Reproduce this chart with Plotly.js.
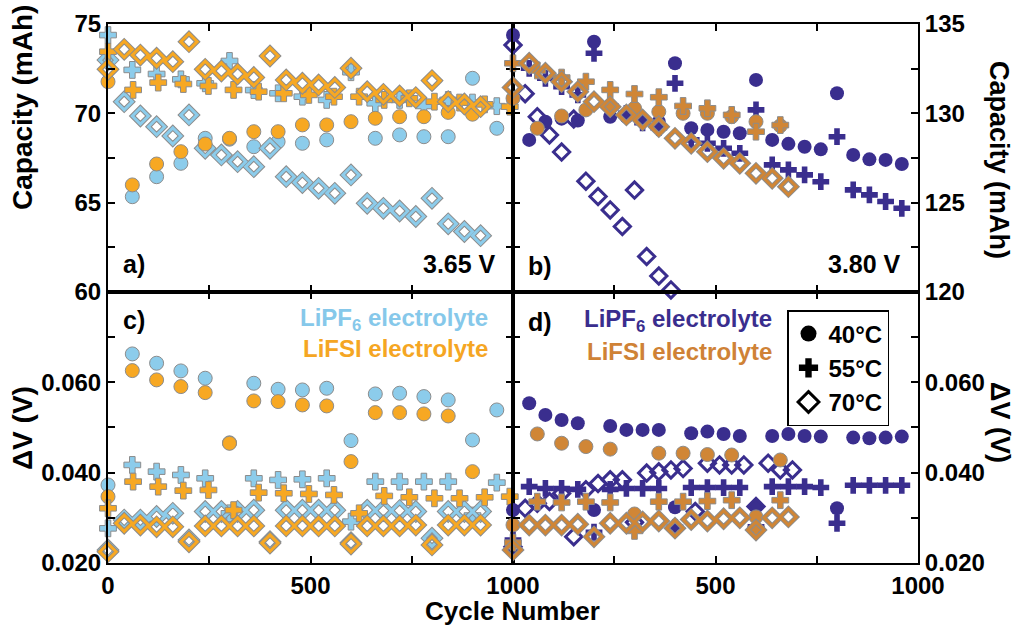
<!DOCTYPE html>
<html><head><meta charset="utf-8">
<script src="https://cdn.plot.ly/plotly-3.0.1.min.js"></script>
<style>html,body{margin:0;padding:0;background:#fff}#chart{width:1015px;height:625px}</style>
</head><body><div id="chart"></div>
<script>
// ---------- cycle grids ----------
const cyc60  = [0,60,120,180,240,300,360,420,480,540,600,660,720,780,840,900,960];
const cyc62  = [0,62,124,186,248,310,372,434,496,558,620,682,744,806,868,930,992];
const cyc40L = [0,40,80,120,160,200,240,280,320,360,400,440,480,520,560,600,640,680,720,760,800,840,880,920];
const cyc40  = [0,40,80,120,160,200,240,280,320,360,400,440,480,520,560,600,640,680,720,760,800,840,880,920,960];
const cyc40F = [0,40,80,120,160,200,240,280,320,360,400,440,480,520,560,600,640,680];
const cyc60F = [0,60,120,180,240,300,360,420,480,540,600,660];
const cyc30b = [0,30,60,90,120,150,180,210,240,270,300,330,360,390];
const cyc30d = [0,30,60,90,120,150,180,210,240,270,300,330,360,390,420,450,480,510,540,570,600,630,660,690];

// ---------- a) capacity at 3.65 V ----------
const a_LiPF6_40 = [72.9,65.33,66.45,67.20,68.60,68.55,68.13,68.41,68.32,68.51,72.43,68.60,68.79,68.69,68.69,71.96,69.16];
const a_LiFSI_40 = [71.77,65.99,67.16,67.85,68.28,68.60,68.97,68.97,69.35,69.35,69.53,69.72,69.81,69.81,70.05,69.95,null];
const a_LiPF6_55 = [74.38,72.43,72.20,71.90,71.68,72.93,71.30,71.12,70.93,70.75,72.30,70.56,70.75,70.41,70.75,70.60,70.40];
const a_LiFSI_55 = [73.45,71.31,71.72,71.64,71.53,71.31,71.21,71.12,71.03,70.93,70.93,70.75,70.84,70.65,70.60,70.50,70.37];
const a_LiPF6_70 = [72.98,70.65,69.85,69.25,68.73,69.91,68.04,67.67,67.29,67.01,68.04,66.45,66.12,65.80,65.52,66.55,64.96,64.68,64.53,64.22,65.24,63.81,63.38,63.15];
const a_LiFSI_70 = [72.46,73.58,73.26,73.08,72.89,74.01,72.46,72.37,72.20,72.01,73.21,71.87,71.68,71.59,71.45,72.52,71.21,71.06,70.97,70.88,71.83,70.65,70.52,70.37];

// ---------- b) capacity at 3.80 V ----------
const b_LiPF6_40 = [134.38,128.51,129.53,129.70,129.60,134.01,129.81,129.81,129.60,129.53,132.80,129.16,129.07,128.97,128.88,131.87,128.51,128.29,128.13,127.98,131.12,127.67,127.42,127.39,127.16];
const b_LiPF6_55 = [135.04,132.52,131.96,131.49,131.03,133.36,130.40,130.00,129.47,129.20,131.68,128.51,128.32,128.04,127.76,130.19,127.11,126.83,126.55,126.17,128.69,125.71,125.43,125.06,124.68];
const b_LiPF6_70 = [133.82,131.10,129.81,128.79,127.83,129.68,126.20,125.34,124.59,123.66,125.70,121.98,120.89,120.11];
const b_LiFSI_40 = [130.84,129.16,129.85,130.19,130.37,130.28,130.09,130.00,130.00,129.81,129.53,129.30];
const b_LiFSI_55 = [132.80,132.40,132.00,131.77,131.31,131.08,130.90,130.41,130.28,129.91,128.97,129.34];
const b_LiFSI_70 = [131.45,132.80,132.24,131.77,131.21,130.65,130.37,129.91,129.63,129.25,128.60,128.32,127.85,127.48,127.20,126.64,126.36,125.89];

// ---------- c) ΔV at 3.65 V ----------
const c_LiPF6_40 = [0.03727,0.06627,0.06421,0.06251,0.06089,0.04660,0.05978,0.05845,0.05830,0.05867,0.04709,0.05742,0.05757,0.05683,0.05609,0.04723,0.05387];
const c_LiFSI_40 = [0.03469,0.06258,0.06052,0.05904,0.05771,0.04649,0.05587,0.05572,0.05498,0.05476,0.04244,0.05328,0.05328,0.05299,0.05254,0.04022,null];
const c_LiPF6_55 = [0.02767,0.04170,0.04022,0.03948,0.03874,0.03100,0.03874,0.03838,0.03852,0.03874,0.02915,0.03801,0.03801,0.03801,0.03801,0.03050,0.03779];
const c_LiFSI_55 = [0.03211,0.03801,0.03690,0.03602,0.03616,0.03170,0.03557,0.03543,0.03528,0.03506,0.03100,0.03484,0.03454,0.03432,0.03432,0.03454,0.03468];
const c_LiPF6_70 = [0.0229,0.0295,0.0295,0.0303,0.0310,0.0251,0.0314,0.0314,0.0314,0.0317,0.0247,0.0317,0.0317,0.0317,0.0317,0.0245,0.0317,0.0316,0.0316,0.0314,0.0255,0.0314,0.0314,0.0314];
const c_LiFSI_70 = [0.0225,0.0288,0.0284,0.0280,0.0280,0.0247,0.0282,0.0282,0.0282,0.0282,0.0244,0.0282,0.0282,0.0282,0.0282,0.0242,0.0282,0.0282,0.0282,0.0284,0.0240,0.0284,0.0284,0.0284];

// ---------- d) ΔV at 3.80 V ----------
const d_LiPF6_40 = [0.03174,0.05535,0.05277,0.05166,0.05092,0.03174,0.05033,0.04945,0.04945,0.04945,0.03233,0.04871,0.04908,0.04856,0.04812,0.03247,0.04812,0.04856,0.04812,0.04797,0.03211,0.04775,0.04760,0.04775,0.04797];
const d_LiPF6_55 = [0.0251,0.0369,0.0365,0.0365,0.0363,0.0268,0.0363,0.0365,0.0365,0.0365,0.0279,0.0367,0.0367,0.0367,0.0367,0.0280,0.0369,0.0369,0.0369,0.0367,0.0288,0.0372,0.0372,0.0372,0.0372];
const d_LiPF6_70 = [0.0236,0.0321,0.0332,0.0336,0.0354,0.0258,0.0362,0.0376,0.0384,0.0384,0.0290,0.0399,0.0402,0.0406,0.0409,0.0314,0.0421,0.0417,0.0417,0.0417,0.0325,0.0421,0.0406,0.0406];
const d_LiFSI_40 = [0.02842,0.04856,0.04650,0.04576,0.04520,0.03085,0.04430,0.04430,0.04400,0.04390,0.03020,0.04280];
const d_LiFSI_55 = [0.0245,0.03357,0.03340,0.03357,0.03340,0.02710,0.03357,0.03357,0.03370,0.03390,0.02750,0.03390];
const d_LiFSI_70 = [0.0229,0.0284,0.0284,0.0284,0.0286,0.0258,0.0288,0.0288,0.0291,0.0293,0.0277,0.0296,0.0293,0.0298,0.0300,0.0273,0.0300,0.0302];

// legend labels
const tempLabels  = ['40°C','55°C','70°C'];
const tempSymbols = ['circle','cross','diamond-open'];

// ---------- styling ----------
const LB='#8CCCEB', OR='#F7A823', DB='#3A2E8E', BR='#D08636', GR='#8C8C8C';
const FONT='Liberation Sans, Arial, sans-serif';

function filled(x,y,ax,sym,col,edge){
  return {type:'scatter',mode:'markers',x:x,y:y,xaxis:ax[0],yaxis:ax[1],cliponaxis:false,showlegend:false,hoverinfo:'skip',
    marker:{symbol:sym,size:14,color:col,line:{color:edge||col,width:edge?1:0}}};
}
function hollow(x,y,ax,col,edge){
  const out=[];
  if(edge){out.push({type:'scatter',mode:'markers',x:x,y:y,xaxis:ax[0],yaxis:ax[1],cliponaxis:false,showlegend:false,hoverinfo:'skip',
    marker:{symbol:'diamond-open',size:12.5,color:edge,line:{color:edge,width:5}}});}
  out.push({type:'scatter',mode:'markers',x:x,y:y,xaxis:ax[0],yaxis:ax[1],cliponaxis:false,showlegend:false,hoverinfo:'skip',
    marker:{symbol:'diamond-open',size:12.5,color:col,line:{color:col,width:3}}});
  return out;
}
const A=['x','y'],B=['x2','y2'],C=['x3','y3'],D=['x4','y4'];
let data=[];
// a
data.push(filled(cyc60,a_LiPF6_40,A,'circle',LB,GR));
data.push(filled(cyc60,a_LiPF6_55,A,'cross',LB,GR));
data=data.concat(hollow(cyc40L,a_LiPF6_70,A,LB,GR));
data.push(filled(cyc60,a_LiFSI_40,A,'circle',OR,GR));
data.push(filled(cyc62,a_LiFSI_55,A,'cross',OR,GR));
data=data.concat(hollow(cyc40L,a_LiFSI_70,A,OR,GR));
// c
data.push(filled(cyc60,c_LiPF6_40,C,'circle',LB,GR));
data.push(filled(cyc60,c_LiPF6_55,C,'cross',LB,GR));
data=data.concat(hollow(cyc40L,c_LiPF6_70,C,LB,GR));
data.push(filled(cyc60,c_LiFSI_40,C,'circle',OR,GR));
data.push(filled(cyc62,c_LiFSI_55,C,'cross',OR,GR));
data=data.concat(hollow(cyc40L,c_LiFSI_70,C,OR,GR));
// b
data.push(filled(cyc40,b_LiPF6_40,B,'circle',DB));
data.push(filled(cyc40,b_LiPF6_55,B,'cross',DB));
data=data.concat(hollow(cyc30b,b_LiPF6_70,B,DB));
data.push(filled(cyc60F,b_LiFSI_40,B,'circle',BR,GR));
data.push(filled(cyc60F,b_LiFSI_55,B,'cross',BR,GR));
data=data.concat(hollow(cyc40F,b_LiFSI_70,B,BR,GR));
// d
data.push(filled(cyc40,d_LiPF6_40,D,'circle',DB));
data.push(filled(cyc40,d_LiPF6_55,D,'cross',DB));
data=data.concat(hollow(cyc30d,d_LiPF6_70,D,DB));
data.push(filled(cyc60F,d_LiFSI_40,D,'circle',BR,GR));
data.push(filled(cyc60F,d_LiFSI_55,D,'cross',BR,GR));
data=data.concat(hollow(cyc40F,d_LiFSI_70,D,BR,GR));
// legend entries
tempLabels.forEach((t,i)=>{
  data.push({type:'scatter',mode:'markers',x:[null],y:[null],xaxis:'x4',yaxis:'y4',name:t,showlegend:true,
    marker:{symbol:tempSymbols[i],size:16,color:'#000',line:{color:'#000',width:i===2?3:0}}});
});

const tickFont={family:FONT,size:24,color:'#000',weight:'bold'};
function xax(dom,anchor,labels){
  return {domain:dom,anchor:anchor,range:[0,1000],showline:true,linecolor:'#000',linewidth:2,mirror:'ticks',
    ticks:'inside',ticklen:7,tickwidth:2,tickcolor:'#000',showgrid:false,zeroline:false,
    tickvals:[0,250,500,750,1000],ticktext:labels||['','','','',''],showticklabels:!!labels,tickfont:tickFont,fixedrange:true};
}
function yax(dom,anchor,range,vals,texts,side){
  return {domain:dom,anchor:anchor,range:range,side:side,showline:true,linecolor:'#000',linewidth:2,mirror:'ticks',
    ticks:'inside',ticklen:7,tickwidth:2,tickcolor:'#000',showgrid:false,zeroline:false,
    tickvals:vals,ticktext:texts,tickfont:tickFont,fixedrange:true};
}
const dv=[0.02,0.03,0.04,0.05,0.06,0.07,0.08];
const dvT=['0.020','','0.040','','0.060','',''];
const yTop=[0.503,1], yBot=[0,0.503];

function ann(text,xp,yp,xa,size,color,opts){
  return Object.assign({xref:'paper',yref:'paper',x:(xp-108)/810,y:(563-yp)/539,xanchor:xa,yanchor:'middle',showarrow:false,
    text:text,font:{family:FONT,size:size,color:color||'#000',weight:'bold'}},opts||{});
}
const annotations=[
  ann('a)',121,264,'left',25),
  ann('3.65 V',498,264,'right',25),
  ann('b)',526,266,'left',25),
  ann('3.80 V',903,264,'right',25),
  ann('c)',121,320,'left',25),
  ann('d)',526,322,'left',25),
  ann('LiPF<sub>6</sub> electrolyte',490,319,'right',24,'#86C8EA'),
  ann('LiFSI electrolyte',490,348,'right',24,'#F5A623'),
  ann('LiPF<sub>6</sub> electrolyte',774,321,'right',24,'#3A2E8E'),
  ann('LiFSI electrolyte',774,351,'right',24,'#CF8236'),
  ann('Capacity (mAh)',22,108,'center',28,'#000',{textangle:-90}),
  ann('Capacity (mAh)',999,160,'center',27,'#000',{textangle:90}),
  ann('ΔV (V)',22,428,'center',28,'#000',{textangle:-90}),
  ann('ΔV (V)',1000,422,'center',27,'#000',{textangle:90}),
  ann('Cycle Number',512,611,'center',26)
];

const layout={
  width:1015,height:625,margin:{l:108,r:97,t:24,b:62,pad:0},
  paper_bgcolor:'#fff',plot_bgcolor:'rgba(0,0,0,0)',
  xaxis:xax([0,0.5],'y'),
  yaxis:yax(yTop,'x',[60,75],[60,62.5,65,67.5,70,72.5,75],['60','','65','','70','','75'],'left'),
  xaxis2:xax([0.5,1],'y2'),
  yaxis2:yax(yTop,'x2',[120,135],[120,122.5,125,127.5,130,132.5,135],['120','','125','','130','','135'],'right'),
  xaxis3:xax([0,0.5],'y3',['0','','500','','1000']),
  yaxis3:yax(yBot,'x3',[0.02,0.08],dv,dvT,'left'),
  xaxis4:xax([0.5,1],'y4',['','','500','','1000']),
  yaxis4:yax(yBot,'x4',[0.02,0.08],dv,dvT,'right'),
  showlegend:true,
  legend:{x:(787-108)/810,y:(563-310)/539,xanchor:'left',yanchor:'top',bgcolor:'#fff',bordercolor:'#000',borderwidth:1.5,
    font:{family:FONT,size:24,color:'#000',weight:'bold'},itemsizing:'trace',tracegroupgap:0},
  annotations:annotations
};
Plotly.newPlot('chart',data,layout,{staticPlot:true,displayModeBar:false});
</script></body></html>
